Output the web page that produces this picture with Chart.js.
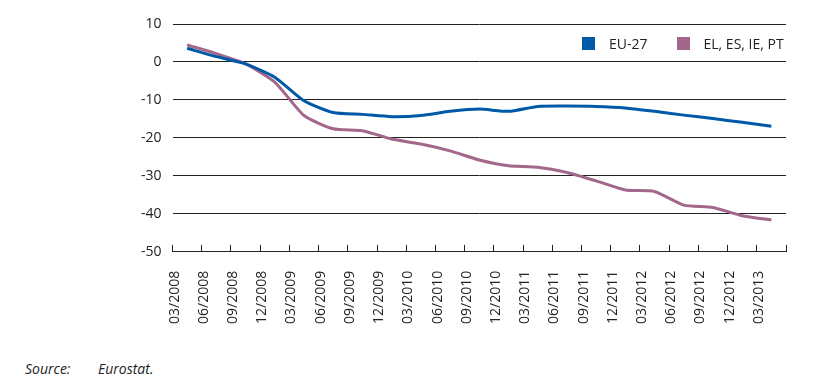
<!DOCTYPE html>
<html>
<head>
<meta charset="utf-8">
<script src="https://cdn.jsdelivr.net/npm/chart.js@4"></script>
<style>
	body { margin: 0; background: #fff; }
	#wrap { position: relative; width: 815px; height: 384px; }
	#myChart { position: absolute; left: 0; top: 0; }
	#source { position: absolute; left: 25px; top: 359px; font: italic 14px "Open Sans", sans-serif; color: #222; }
	#source span { display: inline-block; width: 73px; }
	#legend { position: absolute; left: 582px; top: 34px; font: 14px "Open Sans", sans-serif; color: #222; white-space: nowrap; }
	#legend .item { display: inline-block; margin-right: 29px; }
	#legend .box { display: inline-block; width: 13px; height: 13px; margin-right: 14px; vertical-align: -1px; }
</style>
</head>
<body>
<div id="wrap">
	<canvas id="myChart" width="815" height="356"></canvas>
	<div id="legend"></div>
	<div id="source"><span>Source:</span>Eurostat.</div>
</div>
<script>
// quarterly, 03/2008 .. 03/2013
const labels = ['03/2008', '06/2008', '09/2008', '12/2008', '03/2009', '06/2009', '09/2009', '12/2009',
	'03/2010', '06/2010', '09/2010', '12/2010', '03/2011', '06/2011', '09/2011', '12/2011',
	'03/2012', '06/2012', '09/2012', '12/2012', '03/2013']
const eu27 = [3.6, 1.4, -0.5, -4, -10.2, -13.3, -13.8, -14.4, -14.1, -13, -12.4, -13, -11.7, -11.6,
	-11.7, -12.1, -13, -14, -14.9, -15.9, -16.9]
const elEsIePt = [4.5, 2.2, -0.5, -5.3, -14.1, -17.6, -18.1, -20.3, -21.6, -23.4, -25.8, -27.3, -27.7,
	-29.1, -31.3, -33.7, -34.1, -37.7, -38.3, -40.5, -41.6]
const yTicks = [10, 0, -10, -20, -30, -40, -50]

Chart.defaults.font.family = '"Open Sans", sans-serif'
Chart.defaults.color = '#222'

const ctx = document.getElementById('myChart')
var chart = new Chart(ctx, {
	type: 'line',
	data: {
		labels: labels,
		datasets: [{
			label: 'EU-27',
			data: eu27,
			borderColor: '#0059a8',
			backgroundColor: '#0059a8',
			borderWidth: 3,
			pointRadius: 0,
			tension: 0.2,
			fill: false,
		}, {
			label: 'EL, ES, IE, PT',
			data: elEsIePt,
			borderColor: '#a2678a',
			backgroundColor: '#a2678a',
			borderWidth: 3,
			pointRadius: 0,
			tension: 0.2,
			fill: false,
		}]
	},
	options: {
		responsive: false,
		animation: false,
		layout: { padding: { left: 130, right: 29, top: 24, bottom: 6 } },
		plugins: {
			legend: { display: false },
			tooltip: { enabled: false }
		},
		scales: {
			x: {
				offset: true,
				grid: {
					offset: true,
					drawOnChartArea: false,
					drawTicks: true,
					tickLength: -7,
					color: '#222',
					lineWidth: 1,
				},
				border: { display: true, color: '#222', width: 1 },
				ticks: {
					minRotation: 90,
					maxRotation: 90,
					autoSkip: false,
					labelOffset: -12.5,
					padding: 26,
					font: { size: 14 },
					color: '#222',
				}
			},
			y: {
				min: -50,
				max: 10,
				afterBuildTicks: function (scale) {
					scale.ticks = yTicks.map(v => ({ value: v }))
				},
				grid: { color: '#222', lineWidth: 1, drawTicks: false },
				border: { display: false },
				ticks: {
					padding: 11,
					font: { size: 14 },
					color: '#222',
				}
			}
		}
	}
})

// legend built from the datasets
const legendEl = document.getElementById('legend')
chart.data.datasets.forEach(ds => {
	const item = document.createElement('span')
	item.className = 'item'
	const box = document.createElement('span')
	box.className = 'box'
	box.style.background = ds.borderColor
	item.appendChild(box)
	item.appendChild(document.createTextNode(ds.label))
	legendEl.appendChild(item)
})
</script>
</body>
</html>
